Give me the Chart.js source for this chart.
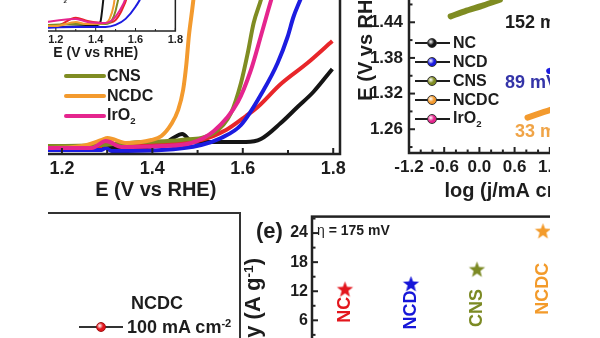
<!DOCTYPE html>
<html>
<head>
<meta charset="utf-8">
<script src="https://cdn.jsdelivr.net/npm/chart.js@4"></script>
<style>
body { margin: 0; background: #fff; }
#page { position: relative; width: 600px; height: 338px; overflow: hidden; background: #fff;
        font-family: 'Liberation Sans', Arial, sans-serif; font-weight: bold; color: #1d1d1d; }
#clip { position: absolute; left: 48px; top: 0; width: 502px; height: 338px; overflow: hidden; }
#inner { position: absolute; left: -48px; top: 0; width: 600px; height: 338px; }
.t { position: absolute; white-space: nowrap; line-height: 1; transform: translateY(-50%); }
.t sup { font-size: 62%; vertical-align: 0.55em; }
.mk { position: absolute; }
</style>
</head>
<body>
<div id="page"><div id="clip"><div id="inner"></div></div></div>
<script>
// (c) LSV curves, E (V vs RHE) vs j
var lsvNames = ['C', 'NC', 'NCD', 'CNS', 'NCDC', 'IrO₂'];
var lsvColors = ['#151515', '#e8262a', '#1c1ce0', '#7f8c22', '#f39a2e', '#e5258e'];
var lsvTicks = [1.0, 1.2, 1.4, 1.6, 1.8];
var lsvE = [
    [1.10, 1.174, 1.332, 1.420, 1.446, 1.466, 1.486, 1.519, 1.607, 1.640, 1.684, 1.721, 1.756, 1.798],
    [1.10, 1.174, 1.288, 1.297, 1.321, 1.420, 1.508, 1.563, 1.607, 1.633, 1.684, 1.743, 1.798],
    [1.10, 1.174, 1.288, 1.297, 1.310, 1.420, 1.508, 1.552, 1.596, 1.646, 1.677, 1.699, 1.712, 1.727, 1.734],
    [1.10, 1.174, 1.288, 1.376, 1.464, 1.536, 1.574, 1.596, 1.611, 1.624, 1.640, 1.646],
    [1.10, 1.174, 1.244, 1.288, 1.301, 1.343, 1.398, 1.420, 1.442, 1.457, 1.468, 1.475, 1.481, 1.488, 1.492],
    [1.10, 1.174, 1.266, 1.297, 1.332, 1.420, 1.486, 1.536, 1.589, 1.618, 1.640, 1.655, 1.666]
];
var lsvJ = [
    [-0.6, -0.6, -0.6, 0, 1.4, 2.2, 0.8, 0.6, 0.6, 1.2, 4.4, 7.6, 10.6, 15.2],
    [-0.4, -0.4, -0.2, 1.0, 0, 0.2, 1.0, 3.0, 5.8, 7.6, 12.2, 16.4, 20.8],
    [-1, -1, -1, -0.6, -1.2, -1, 0, 1.4, 4, 11, 16.4, 21.6, 25.6, 29, 30.6],
    [-0.2, -0.2, 0, 0.6, 1.0, 2.4, 6.4, 12.4, 18.4, 24.4, 29, 31],
    [-0.6, -0.6, -0.2, 1.0, 1.4, 0.4, 1.0, 1.8, 4.2, 7.0, 11, 16, 22, 27, 30],
    [-0.6, -0.6, -0.6, 0.8, -0.4, -0.2, 0.4, 2.8, 8.6, 15, 21.8, 26.6, 30]
];

// inset of (c)
var insetTicks = [1.2, 1.4, 1.6, 1.8];
var insetE = [
    [1.0, 1.2, 1.35, 1.41, 1.425, 1.435, 1.445, 1.46],
    [1.0, 1.2, 1.3, 1.36, 1.45, 1.5, 1.53, 1.56, 1.6],
    [1.0, 1.3, 1.45, 1.5, 1.55, 1.6, 1.63, 1.66],
    [1.0, 1.3, 1.45, 1.48, 1.5, 1.52, 1.54],
    [1.0, 1.2, 1.3, 1.35, 1.45, 1.47, 1.49, 1.5, 1.515],
    [1.0, 1.3, 1.36, 1.45, 1.49, 1.52, 1.55, 1.58]
];
var insetJ = [
    [4, 4, 5, 6, 10, 25, 45, 80],
    [5, 5, 13, 10, 8, 11, 20, 35, 70],
    [2, 4, 4, 6, 12, 24, 35, 60],
    [4, 7, 7, 10, 20, 40, 80],
    [5, 5, 9, 7, 8, 12, 25, 40, 80],
    [4, 12, 9, 8, 12, 20, 32, 55]
];

// (d) Tafel plots
var tafelNames = ['NC', 'NCD', 'CNS', 'NCDC', 'IrO₂'];
var tafelColors = ['#151515', '#1c1ce0', '#7f8c22', '#f39a2e', '#e5258e'];
var tafelSlopes = [null, 89, 152, 33, null];
var tafelXTicks = [-1.2, -0.6, 0.0, 0.6, 1.2, 1.8, 2.4];
var tafelYTicks = [1.26, 1.32, 1.38, 1.44, 1.50, 1.56];
var tafelLogJ = [[], [1.19, 1.6, 2.1], [-0.49, -0.25, 0.07, 0.35], [0.82, 1.21, 1.7], []];
var tafelE = [[], [1.358, 1.371, 1.386], [1.450, 1.4585, 1.4685, 1.478], [1.2795, 1.2925, 1.307], []];

// stability panel
var stabilityLabel = '100 mA cm⁻²';

// (e) mass activity at eta = 175 mV
var activityNames = ['NC', 'NCD', 'CNS', 'NCDC', 'IrO₂'];
var activityValues = [12.5, 13.6, 16.6, 24.5, null];
var activityColors = ['#e3161d', '#1616d8', '#7c8a24', '#f39b2b', '#e5258e'];
var activityTicks = [6, 12, 18, 24];

Chart.defaults.font.family = "'Liberation Sans', Arial, sans-serif";
Chart.defaults.font.weight = 'bold';
Chart.defaults.color = '#1d1d1d';
Chart.defaults.animation = false;
Chart.defaults.responsive = false;
Chart.defaults.plugins.legend.display = false;
Chart.defaults.plugins.tooltip.enabled = false;

var inner = document.getElementById('inner');

function makeCanvas(left, top, w, h) {
    var c = document.createElement('canvas');
    c.width = w;
    c.height = h;
    c.style.cssText = 'position:absolute;left:' + left + 'px;top:' + top + 'px;width:' + w + 'px;height:' + h + 'px';
    inner.appendChild(c);
    return c.getContext('2d');
}

function xy(xs, ys) {
    return xs.map(function (x, i) { return { x: x, y: ys[i] }; });
}

function fixTicks(values) {
    return function (s) { s.ticks = values.map(function (v) { return { value: v }; }); };
}

// box round the plot area
var frame = {
    id: 'frame',
    afterDraw: function (chart, args, opts) {
        var a = chart.chartArea, ctx = chart.ctx;
        ctx.save();
        ctx.strokeStyle = opts.color || '#222';
        ctx.lineWidth = opts.width || 2;
        ctx.strokeRect(a.left, a.top, a.right - a.left, a.bottom - a.top);
        ctx.restore();
    }
};

// short ticks pointing into the plot
var innerTicks = {
    id: 'innerTicks',
    afterDraw: function (chart, args, opts) {
        var a = chart.chartArea, ctx = chart.ctx;
        ctx.save();
        ctx.strokeStyle = '#222';
        ctx.lineWidth = opts.width || 1.5;
        (opts.axes || []).forEach(function (ax) {
            var s = chart.scales[ax.id];
            for (var i = Math.ceil((s.min - ax.start) / ax.step - 1e-6); ax.start + i * ax.step <= s.max + 1e-6; i++) {
                var p = s.getPixelForValue(ax.start + i * ax.step);
                var len = (((i % ax.every) + ax.every) % ax.every === 0) ? ax.major : ax.minor;
                ctx.beginPath();
                if (s.isHorizontal()) { ctx.moveTo(p, a.bottom); ctx.lineTo(p, a.bottom - len); }
                else { ctx.moveTo(a.left, p); ctx.lineTo(a.left + len, p); }
                ctx.stroke();
            }
        });
        ctx.restore();
    }
};

function addText(html, left, top, size, color, extra) {
    var d = document.createElement('div');
    d.className = 't';
    d.innerHTML = html;
    d.style.left = left + 'px';
    d.style.top = top + 'px';
    d.style.fontSize = size + 'px';
    if (color) d.style.color = color;
    if (extra) d.style.cssText += extra;
    inner.appendChild(d);
    return d;
}

function addBox(left, top, w, h, css) {
    var d = document.createElement('div');
    d.className = 'mk';
    d.style.cssText += 'left:' + left + 'px;top:' + top + 'px;width:' + w + 'px;height:' + h + 'px;' + css;
    inner.appendChild(d);
}

// (c) main LSV
new Chart(makeCanvas(-45, -30, 399, 234), {
    type: 'line',
    data: {
        datasets: lsvNames.map(function (name, i) {
            return {
                label: name, data: xy(lsvE[i], lsvJ[i]), borderColor: lsvColors[i], borderWidth: 4,
                pointRadius: 0, cubicInterpolationMode: 'monotone', order: lsvNames.length - i
            };
        })
    },
    options: {
        layout: { padding: { top: 10, right: 14, left: 14, bottom: 0 } },
        scales: {
            x: {
                type: 'linear', min: 1.0, max: 1.815,
                afterBuildTicks: fixTicks(lsvTicks),
                afterFit: function (s) { s.height = 50; },
                grid: { display: false, drawTicks: false }, border: { display: false },
                ticks: { font: { size: 18 }, padding: 4, callback: function (v) { return v.toFixed(1); } },
                title: { display: true, text: 'E (V vs RHE)', font: { size: 20 }, padding: { top: 0, bottom: 2 } }
            },
            y: { display: false, min: -1.8, max: 33 }
        },
        plugins: {
            frame: { width: 2.5 },
            innerTicks: { axes: [{ id: 'x', start: 1.2, step: 0.1, every: 2, major: 6, minor: 4 }], width: 2 }
        }
    },
    plugins: [frame, innerTicks]
});

// (c) inset
new Chart(makeCanvas(7, -80, 178, 143), {
    type: 'line',
    data: {
        datasets: lsvNames.map(function (name, i) {
            return {
                label: name, data: xy(insetE[i], insetJ[i]), borderColor: lsvColors[i], borderWidth: 2,
                pointRadius: 0, cubicInterpolationMode: 'monotone', order: lsvNames.length - i
            };
        })
    },
    options: {
        layout: { padding: { top: 10, right: 9, left: 9, bottom: 0 } },
        scales: {
            x: {
                type: 'linear', min: 1.0, max: 1.8,
                afterBuildTicks: fixTicks(insetTicks),
                afterFit: function (s) { s.height = 32; },
                grid: { display: false, drawTicks: false }, border: { display: false },
                ticks: { font: { size: 11 }, padding: 2, callback: function (v) { return v.toFixed(1); } },
                title: { display: true, text: 'E (V vs RHE)', font: { size: 14 }, padding: { top: 0, bottom: 1 } }
            },
            y: { display: false, min: 0, max: 100 }
        },
        plugins: {
            frame: { width: 1.5 },
            innerTicks: { axes: [{ id: 'x', start: 1.2, step: 0.1, every: 2, major: 3, minor: 2 }], width: 1 }
        }
    },
    plugins: [frame, innerTicks]
});

// (c) legend, two columns
lsvNames.forEach(function (name, i) {
    var col = i < 3 ? 0 : 1;
    var y = [76, 96, 116][i % 3];
    var lineLeft = col ? 64 : -30;
    addBox(lineLeft, y - 2, 42, 4, 'background:' + lsvColors[i] + ';border-radius:2px;');
    addText(name.replace('₂', '<sub style="font-size:60%">2</sub>'), lineLeft + 43, y, 16);
});
addText('IrO<sub style="font-size:60%">2</sub>', 49, -2, 10);

// (d) Tafel
new Chart(makeCanvas(350, -89, 286, 292), {
    type: 'line',
    data: {
        datasets: tafelNames.map(function (name, i) {
            return {
                label: name, data: xy(tafelLogJ[i], tafelE[i]), borderColor: tafelColors[i], borderWidth: 6,
                borderCapStyle: 'round', pointRadius: 0, tension: 0.3
            };
        })
    },
    options: {
        layout: { padding: { top: 10, right: 14, left: 0, bottom: 0 } },
        scales: {
            x: {
                type: 'linear', min: -1.2, max: 2.4,
                afterBuildTicks: fixTicks(tafelXTicks),
                afterFit: function (s) { s.height = 50; },
                grid: { display: false, drawTicks: false }, border: { display: false },
                ticks: { font: { size: 17 }, padding: 4, callback: function (v) { return v.toFixed(1); } },
                title: { display: true, text: 'log (j/mA cm⁻²)', font: { size: 20 }, padding: { top: 0, bottom: 0 } }
            },
            y: {
                type: 'linear', min: 1.22, max: 1.6,
                afterBuildTicks: fixTicks(tafelYTicks),
                afterFit: function (s) { s.width = 59; },
                grid: { display: false, drawTicks: false }, border: { display: false },
                ticks: { font: { size: 17 }, padding: 6, callback: function (v) { return v.toFixed(2); } },
                title: { display: true, text: 'E (V vs RHE)', font: { size: 20 }, padding: { top: 4, bottom: 0 } }
            }
        },
        plugins: {
            frame: { width: 2.5 },
            innerTicks: {
                axes: [
                    { id: 'x', start: -1.2, step: 0.2, every: 3, major: 6, minor: 3.5 },
                    { id: 'y', start: 1.26, step: 0.03, every: 2, major: 6, minor: 3.5 }
                ], width: 2
            }
        }
    },
    plugins: [frame, innerTicks]
});

// (d) legend
tafelNames.forEach(function (name, i) {
    var y = 43 + 19 * i;
    addBox(415, y - 1, 35, 2, 'background:#1d1d1d;');
    addBox(427, y - 5, 10, 10, 'border-radius:50%;box-sizing:border-box;border:1px solid #333;' +
        'background:radial-gradient(circle at 35% 35%, #fff 0, ' + tafelColors[i] + ' 45%);');
    addText(name.replace('₂', '<sub style="font-size:60%">2</sub>'), 453, y, 16);
});

// (d) Tafel slope notes
var slopeSpots = { 1: [505, 82, '#3434a8'], 2: [505, 22, '#1d1d1d'], 3: [515, 131, '#f0a447'] };
tafelSlopes.forEach(function (v, i) {
    if (v == null) return;
    var s = slopeSpots[i];
    addText(v + ' mV dec<sup>-1</sup>', s[0], s[1], 18, s[2]);
});

// stability panel frame
new Chart(makeCanvas(0, 203, 250, 240), {
    type: 'line',
    data: { datasets: [{ label: stabilityLabel, data: [], borderColor: '#e3161d', pointBackgroundColor: '#e3161d' }] },
    options: {
        layout: { padding: { top: 10, left: 20, right: 10, bottom: 0 } },
        scales: { x: { type: 'linear', display: false, min: 0, max: 1 }, y: { display: false, min: 0, max: 1 } },
        plugins: { frame: { width: 2, color: '#333' } }
    },
    plugins: [frame]
});
addText('NCDC', 131, 303, 18);
addBox(79, 326, 44, 2, 'background:#333;');
addBox(96, 322, 10, 10, 'border-radius:50%;box-sizing:border-box;border:1px solid #a01010;' +
    'background:radial-gradient(circle at 35% 35%, #fff 0, #e3161d 45%);');
addText('100 mA cm<sup>-2</sup>', 127, 327, 18);

// (e) mass activity
function starImage(color, r) {
    var c = document.createElement('canvas');
    var s = Math.ceil(r * 2) + 2;
    c.width = s;
    c.height = s;
    var g = c.getContext('2d');
    g.fillStyle = color;
    g.beginPath();
    for (var k = 0; k < 10; k++) {
        var rad = k % 2 ? r * 0.42 : r;
        var ang = -Math.PI / 2 + k * Math.PI / 5;
        g.lineTo(s / 2 + rad * Math.cos(ang), s / 2 + 1 + rad * Math.sin(ang));
    }
    g.closePath();
    g.fill();
    return c;
}

var starLabels = {
    id: 'starLabels',
    afterDatasetsDraw: function (chart, args, opts) {
        var ctx = chart.ctx;
        chart.getDatasetMeta(0).data.forEach(function (pt, i) {
            if (activityValues[i] == null) return;
            ctx.save();
            ctx.translate(pt.x, pt.y + opts.gaps[i]);
            ctx.rotate(-Math.PI / 2);
            ctx.font = "bold 18px 'Liberation Sans', Arial, sans-serif";
            ctx.fillStyle = activityColors[i];
            ctx.textAlign = 'right';
            ctx.textBaseline = 'middle';
            ctx.fillText(activityNames[i], 0, 0);
            ctx.restore();
        });
    }
};

new Chart(makeCanvas(282, 203, 360, 160), {
    type: 'line',
    data: {
        datasets: [{
            label: 'Mass activity',
            data: activityValues.map(function (v, i) { return { x: i + 1, y: v }; }),
            showLine: false,
            pointStyle: activityColors.map(function (c) { return starImage(c, 8.5); }), pointRadius: 9
        }]
    },
    options: {
        layout: { autoPadding: false, padding: { top: 10, bottom: 11, left: 0, right: 0 } },
        scales: {
            x: { type: 'linear', min: 0.5, max: 5.5, display: false },
            y: {
                min: 0, max: 27.4,
                afterBuildTicks: fixTicks(activityTicks),
                afterFit: function (s) { s.width = 30; },
                grid: { display: false, drawTicks: false }, border: { display: false },
                ticks: { font: { size: 16 }, padding: 4 }
            }
        },
        plugins: {
            frame: { width: 2.5 },
            starLabels: { gaps: [8, 7, 20, 32, 0] },
            innerTicks: { axes: [{ id: 'y', start: 0, step: 3, every: 2, major: 6, minor: 3.5 }], width: 2 }
        }
    },
    plugins: [frame, innerTicks, starLabels]
});
addText('(e)', 256, 231, 22);
addText('<span style="font-weight:normal">η</span> = 175 mV', 317, 230, 14);
addText('Mass activity (A g<sup>-1</sup>)', 253, 258, 22, null,
    'transform-origin:0 0;transform:rotate(-90deg) translate(-100%,-50%);');
</script>
</body>
</html>
